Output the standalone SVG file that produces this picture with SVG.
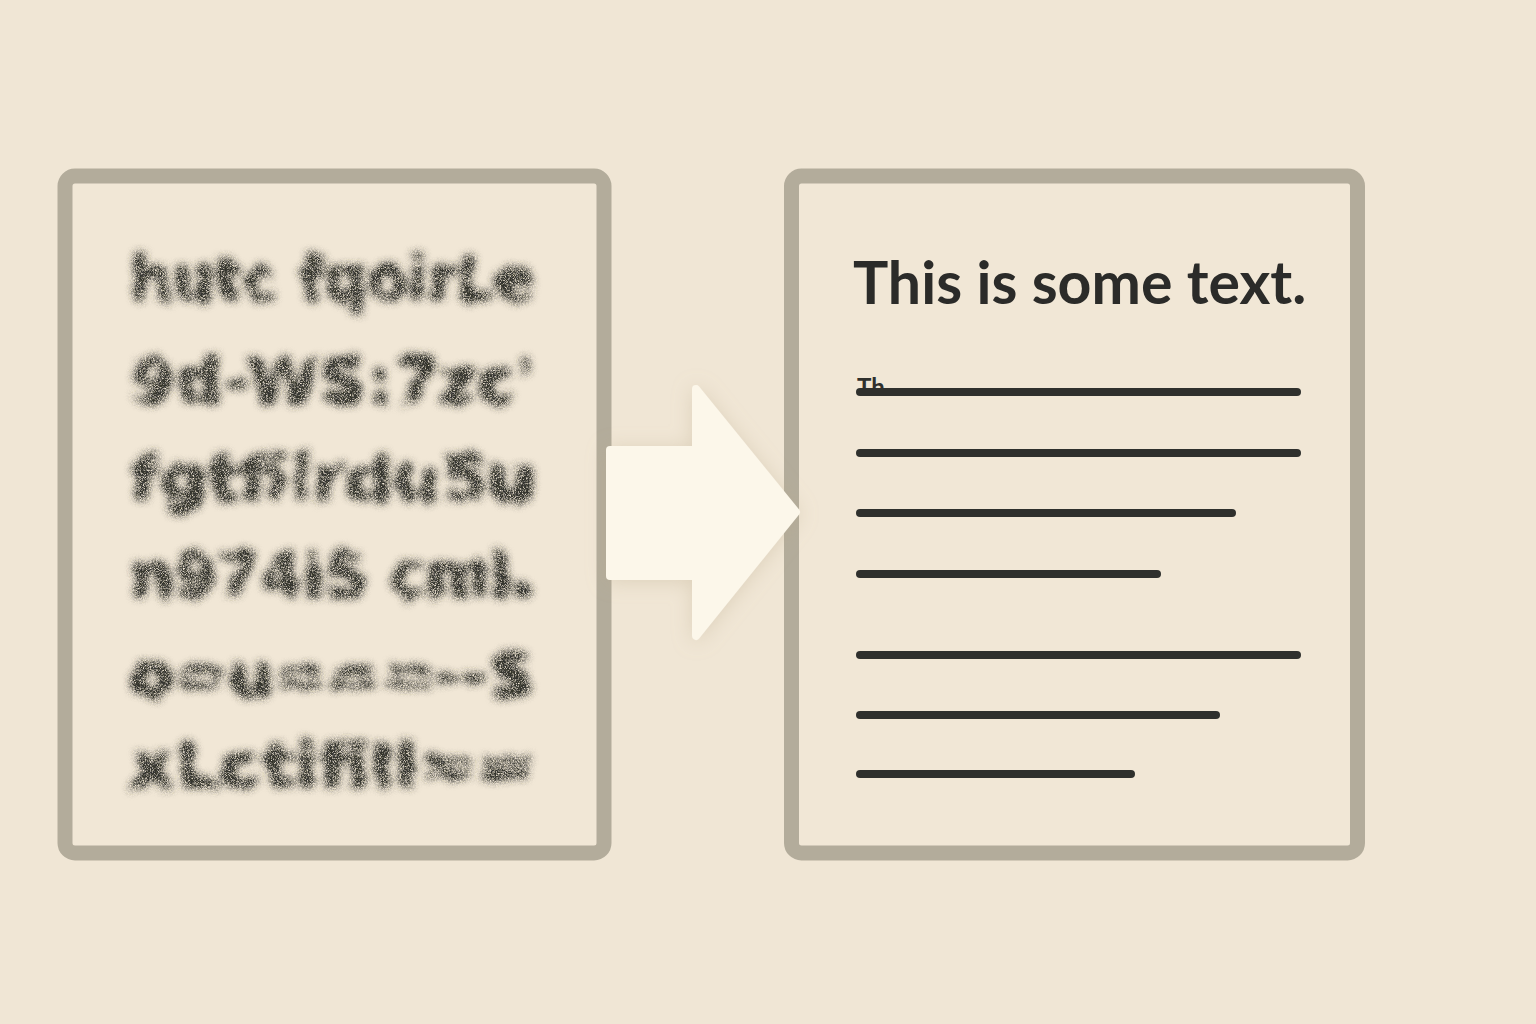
<svg xmlns="http://www.w3.org/2000/svg" width="1536" height="1024" viewBox="0 0 1536 1024">
  <style>
    .panel { fill: #f1e7d6; stroke: #b3ac9b; stroke-width: 15; }
    .line { stroke: #2f302d; stroke-width: 8; stroke-linecap: round; fill: none; }
    .title { font-family: Lato, "Liberation Sans", sans-serif; font-weight: bold; font-size: 59px; fill: #2b2b29; }
    .blur { font-family: "DejaVu Sans", "Liberation Sans", sans-serif; font-weight: bold; font-size: 62px; fill: #35342f; }
    .arrow { fill: #fcf7ea; stroke: #fcf7ea; stroke-width: 8; stroke-linejoin: round; }
  </style>
  <defs>
    <filter id="smudge" x="-10%" y="-30%" width="120%" height="160%">
      <feTurbulence type="fractalNoise" baseFrequency="0.08" numOctaves="3" seed="7" result="noise"/>
      <feDisplacementMap in="SourceGraphic" in2="noise" scale="14" xChannelSelector="R" yChannelSelector="G" result="disp"/>
      <feGaussianBlur in="disp" stdDeviation="4" result="soft"/>
      <feTurbulence type="fractalNoise" baseFrequency="1.4" numOctaves="1" seed="2" result="grain"/>
      <feColorMatrix in="grain" type="matrix" values="0 0 0 0 0  0 0 0 0 0  0 0 0 0 0  0 0 0 2.2 -0.5" result="grainA"/>
      <feComposite in="soft" in2="grainA" operator="in" result="speck"/>
      <feComponentTransfer in="speck"><feFuncA type="linear" slope="1.7"/></feComponentTransfer>
    </filter>
    <filter id="shadow" x="-30%" y="-30%" width="160%" height="160%">
      <feGaussianBlur in="SourceAlpha" stdDeviation="10"/>
      <feOffset dx="0" dy="2" result="b"/>
      <feFlood flood-color="#b8a888" flood-opacity="0.35"/>
      <feComposite in2="b" operator="in"/>
      <feMerge><feMergeNode/><feMergeNode in="SourceGraphic"/></feMerge>
    </filter>
  </defs>
  <rect x="0" y="0" width="1536" height="1024" fill="#f0e6d5"/>

  <g id="node-left">
    <rect class="panel" x="65" y="176" width="539" height="677" rx="10"/>
    <g filter="url(#smudge)">
      <text class="blur" x="130" y="300" textLength="405" lengthAdjust="spacingAndGlyphs">hutc fqoirLe</text>
      <text class="blur" x="130" y="403" textLength="405" lengthAdjust="spacingAndGlyphs">9d-WS:7zc'</text>
      <text class="blur" x="130" y="500" textLength="405" lengthAdjust="spacingAndGlyphs">fgtfilrdu5u</text>
      <text class="blur" x="130" y="597" textLength="405" lengthAdjust="spacingAndGlyphs">n974iS cml.</text>
      <text class="blur" x="130" y="697" textLength="405" lengthAdjust="spacingAndGlyphs">o=u===--S</text>
      <text class="blur" x="130" y="787" textLength="405" lengthAdjust="spacingAndGlyphs">xLctifill==</text>
    </g>
  </g>

  <g id="node-right">
    <rect class="panel" x="791.5" y="176" width="566" height="677" rx="10"/>
    <text class="title" x="853" y="304">This is some text.</text>
    <text x="857" y="396" font-family="Lato, 'Liberation Sans', sans-serif" font-weight="bold" font-size="24" fill="#2f302d">Th</text>
    <line class="line" x1="860" y1="392" x2="1297" y2="392"/>
    <line class="line" x1="860" y1="453" x2="1297" y2="453"/>
    <line class="line" x1="860" y1="513" x2="1232" y2="513"/>
    <line class="line" x1="860" y1="574" x2="1157" y2="574"/>
    <line class="line" x1="860" y1="655" x2="1297" y2="655"/>
    <line class="line" x1="860" y1="715" x2="1216" y2="715"/>
    <line class="line" x1="860" y1="774" x2="1131" y2="774"/>
  </g>

  <g id="connectors">
    <polygon class="arrow" filter="url(#shadow)" points="610,450 696,450 696,389 796,512 696,636 696,576 610,576"/>
  </g>
</svg>
